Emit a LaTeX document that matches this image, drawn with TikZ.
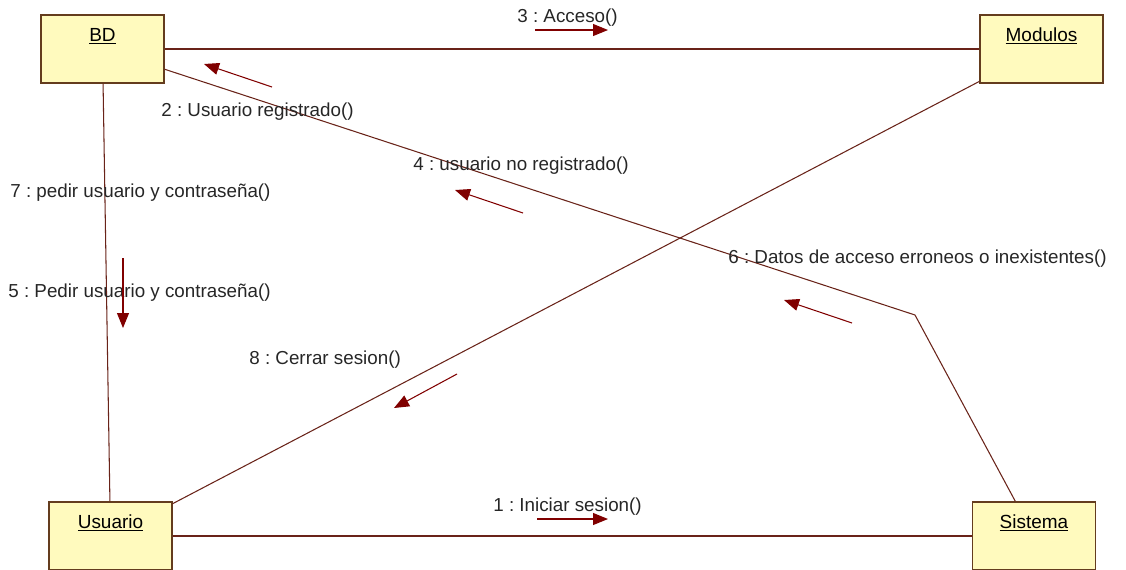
\documentclass[tikz,border=0pt]{standalone}
\usepackage{fontspec}
\setmainfont{Liberation Sans}
\usetikzlibrary{arrows.meta}
\definecolor{objfill}{RGB}{255,250,190}
\definecolor{objdraw}{RGB}{100,60,30}
\definecolor{linkcol}{RGB}{105,35,25}
\definecolor{msgcol}{RGB}{128,0,0}
\tikzset{
	objbox/.style={rectangle, draw=objdraw, fill=objfill, line width=0.8pt, inner sep=0pt,
		minimum width=2.46cm, text height=0.52cm, text depth=0.84cm, align=center,
		font=\fontsize{10.8}{13}\selectfont},
	link/.style={draw=linkcol, line width=0.6pt},
	msg/.style={draw=msgcol, line width=0.6pt, -{Triangle[length=0.3cm,width=0.24cm]}},
	msglabel/.style={anchor=west, inner sep=0pt, text=black!85, font=\fontsize{10.7}{13}\selectfont},
}
\frenchspacing

\begin{document}
\begin{tikzpicture}[x=0.02cm, y=-0.02cm]
	\useasboundingbox (0,0) rectangle (1126,569);
	% objects
	\node[objbox](bd) at (102.5,49){\underline{BD}};
	\node[objbox](modulos) at (1041.5,49){\underline{Modulos}};
	\node[objbox](usuario) at (110.5,536){\underline{Usuario}};
	\node[objbox](sistema) at (1034,536){\underline{Sistema}};
	\coordinate (bend) at (915,315);
	% links
	\draw[link](bd)--(modulos);
	\draw[link](usuario)--(sistema);
	\draw[link](bd)--(usuario);
	\draw[link](modulos)--(usuario);
	\draw[link](bd)--(bend)--(sistema);
	% messages
	\node[msglabel](m1) at (493,507){1 : Iniciar sesion()};
	\node[msglabel](m2) at (161,112){2 : Usuario registrado()};
	\node[msglabel](m3) at (517,18){3 : Acceso()};
	\node[msglabel](m4) at (413,166){4 : usuario no registrado()};
	\node[msglabel](m5) at (8,293){5 : Pedir usuario y contraseña()};
	\node[msglabel](m6) at (728,259){6 : Datos de acceso erroneos o inexistentes()};
	\node[msglabel](m7) at (10,193){7 : pedir usuario y contraseña()};
	\node[msglabel](m8) at (249,360){8 : Cerrar sesion()};
	\coordinate (a1s) at (537,519); \coordinate (a1e) at (608,519);
	\coordinate (a2s) at (272,87); \coordinate (a2e) at (204,64);
	\coordinate (a3s) at (535,30); \coordinate (a3e) at (608,30);
	\coordinate (a4s) at (523,213); \coordinate (a4e) at (455,190);
	\coordinate (a5s) at (123,258); \coordinate (a5e) at (123,328);
	\coordinate (a6s) at (852,323); \coordinate (a6e) at (784,300);
	\coordinate (a8s) at (457,374); \coordinate (a8e) at (394,408);
	\draw[msg](a1s)--(a1e);\draw[msg](a2s)--(a2e);
	\draw[msg](a3s)--(a3e);\draw[msg](a4s)--(a4e);
	\draw[msg](a5s)--(a5e);\draw[msg](a6s)--(a6e);
	\draw[msg](a8s)--(a8e);
\end{tikzpicture}
\end{document}
